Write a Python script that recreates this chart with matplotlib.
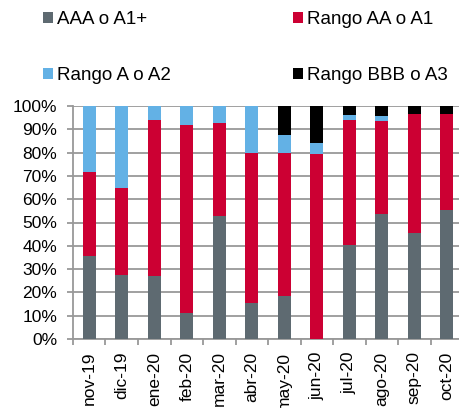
import matplotlib
matplotlib.use("Agg")
import matplotlib.pyplot as plt
import numpy as np

plt.rcParams['font.family'] = ['Liberation Sans', 'DejaVu Sans']

categories = ["nov-19", "dic-19", "ene-20", "feb-20", "mar-20", "abr-20",
              "may-20", "jun-20", "jul-20", "ago-20", "sep-20", "oct-20"]
aaa = [35.7, 27.4, 27.0, 11.3, 52.7, 15.4, 18.6, 0.0, 40.3, 53.7, 45.7, 55.3]
aa = [36.0, 37.2, 66.9, 80.7, 40.2, 64.3, 61.1, 79.3, 53.8, 40.0, 50.9, 41.3]
a = [28.3, 35.4, 6.1, 8.0, 7.1, 20.3, 7.9, 4.7, 1.9, 2.2, 0.0, 0.0]
bbb = [0.0, 0.0, 0.0, 0.0, 0.0, 0.0, 12.4, 16.0, 4.0, 4.1, 3.4, 3.4]

series_names = ["AAA o A1+", "Rango AA o A1", "Rango A o A2", "Rango BBB o A3"]
colors = ["#5E6A71", "#CC0033", "#63B1E5", "#000000"]

fig = plt.figure(figsize=(4.6, 4.08), dpi=100)
ax = fig.add_axes([73/460, 69/408, 390/460, 233/408])

x = np.arange(len(categories))
bottom = np.zeros(len(categories))
handles = []
for vals, name, col in zip([aaa, aa, a, bbb], series_names, colors):
    b = ax.bar(x, vals, bottom=bottom, width=0.39, color=col, label=name, zorder=3)
    handles.append(b)
    bottom += np.array(vals)

ax.set_xlim(-0.5, len(categories) - 0.5)
ax.set_ylim(0, 100)
ax.set_yticks(np.arange(0, 101, 10))
ax.set_yticklabels([f"{v}%" for v in range(0, 101, 10)], fontsize=12.5)
ax.yaxis.grid(True, color="#999999", linewidth=1.3, zorder=0)
ax.set_axisbelow(True)

ax.set_xticks(x)
ax.set_xticklabels(categories, rotation=90, fontsize=12.5)
ax.tick_params(axis='x', length=0, pad=9)
ax.set_xticks(np.arange(-0.5, len(categories), 1), minor=True)
ax.tick_params(axis='x', which='minor', length=4.5, color="#999999", width=1.3)
ax.tick_params(axis='y', length=4.5, color="#999999", width=1.3, pad=7)

for s in ['top', 'right']:
    ax.spines[s].set_visible(False)
ax.spines['left'].set_color("#999999")
ax.spines['left'].set_linewidth(1.3)
ax.spines['bottom'].set_color("#999999")
ax.spines['bottom'].set_linewidth(1.3)

leg_kw = dict(frameon=False, fontsize=13.5, handlelength=0.55, handleheight=0.55,
              handletextpad=0.2, labelspacing=2.1, borderpad=0, borderaxespad=0,
              loc='upper left')
l1 = fig.legend([handles[0], handles[2]], [series_names[0], series_names[2]],
                bbox_to_anchor=(43/460, 1 - 11/408), **leg_kw)
l2 = fig.legend([handles[1], handles[3]], [series_names[1], series_names[3]],
                bbox_to_anchor=(293/460, 1 - 11/408), **leg_kw)

fig.savefig("out.png", dpi=100)
